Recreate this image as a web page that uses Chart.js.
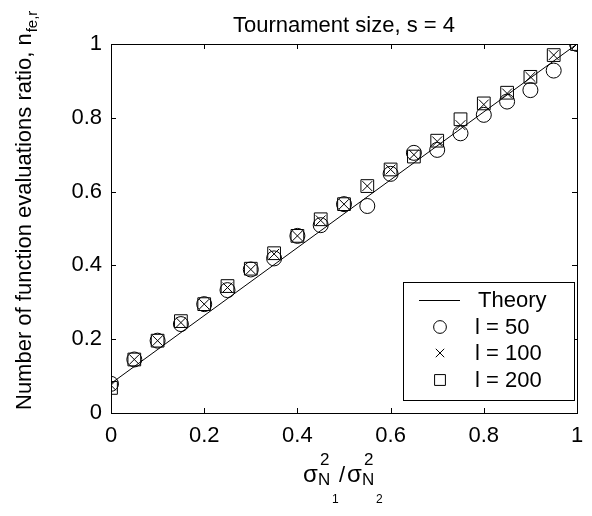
<!DOCTYPE html>
<html>
<head>
<meta charset="utf-8">
<script src="https://cdn.jsdelivr.net/npm/chart.js@4"></script>
<style>
  html, body { margin: 0; padding: 0; background: #fff; }
  #wrap { width: 592px; height: 516px; }
</style>
</head>
<body>
<div id="wrap"><canvas id="myChart" width="592" height="516"></canvas></div>
<script>
const FONT = "'Liberation Sans', Arial, Helvetica, sans-serif";

// sigma^2_N1 / sigma^2_N2
const ratio = [0, 0.05, 0.1, 0.15, 0.2, 0.25, 0.3, 0.35, 0.4, 0.45, 0.5,
  0.55, 0.6, 0.65, 0.7, 0.75, 0.8, 0.85, 0.9, 0.95, 1];

const l50 = [0.079, 0.145, 0.196, 0.241, 0.295, 0.333, 0.389, 0.419, 0.480, 0.509, 0.566,
  0.561, 0.648, 0.705, 0.713, 0.758, 0.808, 0.844, 0.875, 0.928, 1.0];
const l100 = [0.075, 0.145, 0.196, 0.245, 0.295, 0.340, 0.389, 0.431, 0.480, 0.522, 0.566,
  0.615, 0.660, 0.700, 0.736, 0.780, 0.836, 0.866, 0.911, 0.970, 1.0];
const l200 = [0.068, 0.145, 0.196, 0.249, 0.295, 0.344, 0.391, 0.433, 0.480, 0.525, 0.566,
  0.615, 0.660, 0.695, 0.738, 0.796, 0.839, 0.868, 0.911, 0.970, 1.0];

const theoryX = [0, 1];
const theoryY = [0.08, 1];

const axisTicks = [0, 0.2, 0.4, 0.6, 0.8, 1];
const tickText = ['0', '0.2', '0.4', '0.6', '0.8', '1'];

const toPoints = (xs, ys) => xs.map((x, i) => ({ x, y: ys[i] }));

const markerSet = (label, data, style, radius) => ({
  label,
  data: toPoints(ratio, data),
  pointStyle: style,
  pointRadius: radius,
  pointHoverRadius: radius,
  pointBorderWidth: 1,
  pointBorderColor: '#000',
  pointBackgroundColor: 'rgba(0,0,0,0)',
  showLine: false,
});

// box frame, inward ticks, title, axis labels and legend
const decorations = {
  id: 'decorations',
  afterDraw(chart) {
    const { ctx, chartArea: a, scales } = chart;
    const { x: xs, y: ys } = scales;
    ctx.save();
    ctx.strokeStyle = '#000';
    ctx.lineWidth = 1;
    ctx.strokeRect(a.left + 0.5, a.top + 0.5, a.right - a.left, a.bottom - a.top);

    const tl = 5;
    ctx.beginPath();
    axisTicks.forEach(v => {
      const px = Math.round(xs.getPixelForValue(v)) + 0.5;
      ctx.moveTo(px, a.bottom); ctx.lineTo(px, a.bottom - tl);
      ctx.moveTo(px, a.top); ctx.lineTo(px, a.top + tl);
      const py = Math.round(ys.getPixelForValue(v)) + 0.5;
      ctx.moveTo(a.left, py); ctx.lineTo(a.left + tl, py);
      ctx.moveTo(a.right, py); ctx.lineTo(a.right - tl, py);
    });
    ctx.stroke();

    ctx.fillStyle = '#000';
    const cx = (a.left + a.right) / 2;

    // title
    ctx.font = `22px ${FONT}`;
    ctx.textAlign = 'center';
    ctx.textBaseline = 'alphabetic';
    ctx.fillText('Tournament size, s = 4', cx, 32);

    // x label
    ctx.textAlign = 'left';
    const bx = cx - 41;
    const parts = [
      ['σ', 0, 482, 24], ['2', 17, 465, 17], ['N', 15, 485, 17], ['1', 29, 503, 12],
      ['/', 36, 482, 22],
      ['σ', 44, 482, 24], ['2', 61, 465, 17], ['N', 59, 485, 17], ['2', 73, 503, 12],
    ];
    parts.forEach(([t, dx, by, fs]) => {
      ctx.font = `${fs}px ${FONT}`;
      ctx.fillText(t, bx + dx, by);
    });

    // y label
    ctx.save();
    ctx.translate(31, 410);
    ctx.rotate(-Math.PI / 2);
    ctx.font = `22px ${FONT}`;
    const main = 'Number of function evaluations ratio, n';
    ctx.fillText(main, 0, 0);
    const w = ctx.measureText(main).width;
    ctx.font = `15px ${FONT}`;
    ctx.fillText('fe,r', w + 1, 6);
    ctx.restore();

    // legend
    const box = { left: 403, top: 282, right: 574, bottom: 400 };
    ctx.fillStyle = '#fff';
    ctx.fillRect(box.left, box.top, box.right - box.left, box.bottom - box.top);
    ctx.strokeRect(box.left + 0.5, box.top + 0.5, box.right - box.left, box.bottom - box.top);
    ctx.font = `22px ${FONT}`;
    ctx.textBaseline = 'middle';
    const rowY = [300, 327, 353, 380];
    chart.data.datasets.forEach((ds, i) => {
      const y = rowY[i];
      if (ds.showLine) {
        ctx.beginPath();
        ctx.moveTo(419, y + 0.5); ctx.lineTo(460, y + 0.5);
        ctx.stroke();
        ctx.fillStyle = '#000';
        ctx.fillText(ds.label, 478, y + 1);
      } else {
        ctx.fillStyle = 'rgba(0,0,0,0)';
        Chart.helpers.drawPoint(ctx, {
          pointStyle: ds.pointStyle,
          radius: ds.pointRadius * 0.85,
          rotation: 0,
          borderWidth: 1,
        }, 440, y);
        ctx.fillStyle = '#000';
        ctx.fillText(ds.label, 475, y + 1);
      }
    });
    ctx.restore();
  },
};

new Chart(document.getElementById('myChart'), {
  type: 'scatter',
  data: {
    datasets: [
      {
        label: 'Theory',
        data: toPoints(theoryX, theoryY),
        showLine: true,
        borderColor: '#000',
        borderWidth: 1,
        pointRadius: 0,
        pointHoverRadius: 0,
      },
      markerSet('l = 50', l50, 'circle', 7.5),
      markerSet('l = 100', l100, 'crossRot', 7),
      markerSet('l = 200', l200, 'rect', 9),
    ],
  },
  options: {
    responsive: false,
    animation: false,
    events: [],
    layout: { padding: { left: 0, top: 44, right: 15, bottom: 0 } },
    plugins: {
      legend: { display: false },
      title: { display: false },
      tooltip: { enabled: false },
    },
    scales: {
      x: {
        type: 'linear',
        min: 0,
        max: 1,
        afterFit: s => { s.height = 103; s.paddingLeft = 0; s.paddingRight = 0; },
        afterBuildTicks: s => { s.ticks = axisTicks.map(v => ({ value: v })); },
        grid: { display: false, drawTicks: false },
        border: { display: false },
        ticks: {
          color: '#000',
          padding: 10,
          font: { family: FONT, size: 22 },
          callback: (v, i) => tickText[i],
        },
      },
      y: {
        type: 'linear',
        min: 0,
        max: 1,
        afterFit: s => { s.width = 111; s.paddingTop = 0; s.paddingBottom = 0; },
        afterBuildTicks: s => { s.ticks = axisTicks.map(v => ({ value: v })); },
        grid: { display: false, drawTicks: false },
        border: { display: false },
        ticks: {
          color: '#000',
          padding: 9,
          font: { family: FONT, size: 22 },
          callback: (v, i) => tickText[i],
        },
      },
    },
  },
  plugins: [decorations],
});
</script>
</body>
</html>
